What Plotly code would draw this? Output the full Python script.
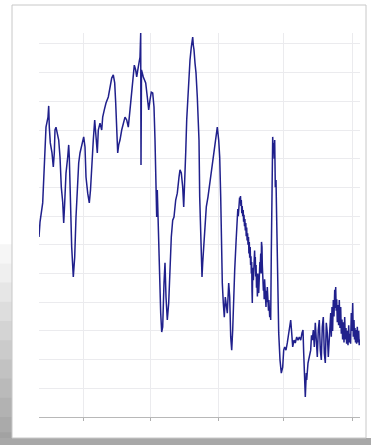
import plotly.graph_objects as go

# Sample position (sample index) and measured level for the trace
sample = [0, 1, 3.7, 5.3, 7, 9, 9.7, 10.3, 11.3, 13, 14.3, 15.3, 16, 17, 18, 19.7, 21, 22.3, 23.7, 24.7,
          25.7, 27, 28.7, 29.7, 30.3, 31.3, 32.7, 34.3, 35.7, 37, 38.3, 39.7, 41, 42.3, 43.7, 44.7, 46, 47,
          48.7, 50.3, 51.5, 52.7, 54.3, 55.7, 57, 58.3, 59.3, 61, 62.7, 63.7, 65.3, 67, 69.3, 71, 72.7,
          74.3, 75.7, 76.7, 77.7, 78.7, 79.7, 81, 82.7, 84.3, 86, 87.7, 89.3, 91, 92.7, 94.3, 95.3, 96.7,
          97.7, 99.3, 101, 101.7, 102, 102.5, 104.3, 106, 106.7, 108.3, 109.7, 111, 112.3, 113.7, 115,
          116, 117, 117.7, 118.3, 119.3, 120.3, 121.7, 122.7, 123.7, 125, 126, 127, 128.3, 129.7, 131,
          132.3, 133.7, 135, 136.7, 138.3, 140, 141, 142.3, 143.7, 144.7, 145.7, 146.7, 147.7, 148.7,
          150, 151, 152.3, 153.7, 154.3, 155, 156, 157, 158.3, 160, 160.7, 161.7, 162.3, 163, 163.7,
          164.7, 165.7, 167.3, 169, 170.7, 172.3, 174, 175.7, 177.3, 178.3, 179.7, 180.7, 181.7, 182.3,
          183.3, 184.3, 185.3, 186.3, 187.3, 188.3, 189.7, 190.7, 191.7, 192.7, 193.7, 194.7, 195.7,
          197, 198.3, 198.8, 199.3, 199.7, 200.2, 200.6, 201, 201.5, 201.9, 202.3, 202.8, 203.2, 203.7,
          204.2, 204.6, 205, 205.5, 205.9, 206.3, 206.8, 207.2, 207.7, 208.1, 208.6, 209, 209.5, 209.9,
          210.3, 210.7, 211.2, 211.6, 212, 212.3, 212.7, 213, 213.3, 213.6, 214, 214.4, 214.8, 215.2,
          215.6, 216, 216.3, 216.7, 217.1, 217.5, 218, 218.4, 218.8, 219.2, 219.7, 220.1, 220.5, 220.9,
          221.3, 221.7, 222.1, 222.5, 223, 223.3, 223.7, 224, 224.4, 224.8, 225.2, 225.6, 226, 226.3,
          226.7, 227, 227.4, 227.8, 228.3, 228.7, 229.1, 229.5, 229.9, 230.3, 230.7, 231.2, 231.7,
          232.3, 233, 233.7, 234.2, 234.7, 235.2, 235.7, 236.3, 237, 237.7, 238.3, 239, 239.7, 241,
          242.3, 243.7, 244.7, 245.7, 247, 248.3, 249.7, 250.7, 251.7, 252.7, 253.7, 255, 256.3, 257.7,
          259, 260.3, 261.7, 263, 264, 264.7, 265.7, 266.3, 267.3, 267.7, 269, 270.3, 271.7, 272.5,
          273.3, 274.3, 275.3, 276.3, 277.3, 278.3, 279.3, 280.3, 281.3, 282.3, 283.3, 284.3, 285.3,
          286.3, 287.3, 288.3, 289.3, 290.3, 291.7, 292.3, 293, 293.6, 294.3, 295, 295.7, 296.2, 296.7,
          297.2, 297.7, 298.3, 299, 299.6, 300.3, 301, 301.7, 302.3, 303, 303.6, 304.3, 305, 305.7,
          306.3, 307, 307.6, 308.3, 309, 309.7, 310.3, 311, 311.6, 312.3, 313, 313.7, 314.3, 315, 315.5,
          316, 316.5, 317, 317.6, 318.3, 319, 319.7, 320.2, 320.7]

level = [62.7, 67.9, 74.6, 86.1, 101.0, 104.5, 108.4, 101.0, 95.5, 92.0, 87.1, 92.0, 100.0, 101.0, 99.0,
         96.5, 90.6, 80.1, 74.9, 67.6, 74.6, 85.0, 90.6, 94.8, 90.6, 72.1, 59.2, 48.8, 55.7, 69.7, 81.5,
         88.5, 92.0, 93.7, 95.5, 97.6, 94.1, 83.6, 78.0, 74.6, 79.1, 85.0, 96.5, 103.5, 96.5, 92.0,
         100.0, 102.4, 100.0, 104.5, 107.0, 109.4, 111.5, 114.6, 118.1, 119.2, 116.4, 109.4, 100.0,
         92.0, 94.8, 96.5, 100.0, 102.4, 104.5, 103.5, 101.0, 107.0, 113.9, 118.5, 122.6, 120.9, 118.5,
         122.0, 125.4, 133.8, 87.8, 120.9, 118.5, 117.4, 116.4, 111.5, 107.0, 110.5, 113.2, 112.9,
         108.0, 96.5, 80.1, 69.7, 79.1, 65.2, 50.2, 36.2, 29.6, 31.4, 46.7, 53.7, 41.8, 33.8, 39.7,
         53.7, 62.7, 68.6, 69.7, 75.6, 78.0, 83.6, 86.1, 85.0, 80.1, 73.2, 80.1, 92.0, 103.5, 111.5,
         117.4, 124.4, 128.9, 132.4, 129.6, 127.9, 123.3, 119.9, 111.5, 96.5, 76.7, 62.7, 53.7, 48.8,
         53.7, 59.2, 66.2, 73.2, 76.7, 81.5, 86.1, 89.5, 95.5, 99.0, 101.0, 96.5, 90.6, 76.7, 62.7,
         46.7, 39.7, 34.8, 41.8, 39.7, 36.2, 46.7, 41.8, 27.9, 23.3, 30.3, 44.3, 51.2, 60.6,
         68.6, 72.5, 70.0, 74.0, 73.0, 76.5, 74.6, 77.0, 73.5, 75.6, 71.0, 73.5, 70.0,
         72.1, 68.0, 70.5, 66.5, 69.0, 65.0, 67.6, 63.0, 66.0, 61.5, 64.0, 60.0, 62.7, 57.0,
         61.0, 55.5, 59.2, 53.0, 56.0, 50.0, 54.0, 44.0, 39.7, 48.0, 52.0, 47.7, 56.0, 51.0,
         58.0, 53.0, 55.7, 49.0, 53.0, 45.0, 47.7, 42.0, 50.0, 44.0, 43.2, 49.0, 46.0, 54.0,
         52.3, 57.0, 50.0, 61.0, 59.2, 53.0, 48.0, 50.2, 44.0, 47.0, 41.0, 48.0, 44.0, 47.7,
         42.0, 38.3, 44.0, 40.0, 45.3, 39.0, 43.0, 37.0, 40.8, 36.0, 34.8, 38.0, 33.8,
         57.1, 82.6, 97.6, 92.0, 95.5, 90.0, 96.5, 80.1, 82.6, 68.6, 51.2, 33.8, 29.3, 19.9,
         15.3, 17.4, 23.3, 24.4, 23.3, 25.8, 29.3, 32.8, 33.8, 29.3, 24.4, 26.8, 25.8, 27.9,
         26.8, 27.9, 26.8, 29.3, 30.3, 22.3, 10.5, 7.0, 15.3, 12.9, 18.8, 20.9, 23.3, 28.5,
         26.8, 30.3, 24.4, 32.8, 27.9, 20.9, 30.3, 33.8, 23.3, 19.9, 31.4, 34.8, 22.3,
         18.8, 32.8, 29.3, 20.9, 27.9, 36.2, 28.0, 38.3, 30.0, 40.8, 35.0, 44.3, 38.0, 45.3,
         37.0, 41.0, 33.0, 39.0, 32.0, 40.8, 31.0, 38.3, 29.0, 34.0, 27.0, 33.0, 26.0, 34.8,
         27.0, 31.0, 25.5, 30.0, 25.0, 32.0, 26.0, 29.0, 25.5, 36.2, 30.0, 39.7, 28.0, 33.8, 27.0,
         31.0, 26.0, 30.3, 25.5, 31.4, 26.0, 30.0, 25.0, 27.0]

x_ticks = [44, 111, 179, 244, 313]

fig = go.Figure()
fig.add_trace(go.Scatter(
    x=sample, y=level, mode="lines",
    line=dict(color="#20208c", width=1.5),
    hoverinfo="skip", showlegend=False,
))

# Card-style frame with a soft drop shadow at the lower left
frame_shapes = []
shadow_steps = [
    (0.45, "#f6f6f6"), (0.40, "#efefef"), (0.35, "#e6e6e6"), (0.30, "#dddddd"),
    (0.25, "#d4d4d4"), (0.20, "#cbcbcb"), (0.15, "#c2c2c2"), (0.10, "#bababa"),
    (0.05, "#b2b2b2"), (0.00, "#aaaaaa"), (-0.04, "#a2a2a2"),
]
for top, col in shadow_steps:
    frame_shapes.append(dict(type="rect", xref="paper", yref="paper", layer="below",
                             x0=-0.1215, x1=-0.0841, y0=-0.075, y1=top,
                             line=dict(width=0), fillcolor=col))
frame_shapes.append(dict(type="rect", xref="paper", yref="paper", layer="below",
                         x0=-0.1215, x1=1.036, y0=-0.075, y1=-0.0547,
                         line=dict(width=0), fillcolor="#a8a8a8"))
frame_shapes.append(dict(type="rect", xref="paper", yref="paper", layer="below",
                         x0=-0.0841, x1=1.0187, y0=-0.0547, y1=1.0729,
                         line=dict(color="#c8c8c8", width=1), fillcolor="#ffffff"))

fig.update_layout(
    width=371, height=445,
    margin=dict(l=39, r=11, t=33, b=28),
    paper_bgcolor="#ffffff",
    plot_bgcolor="#f7f7f9",
    shapes=frame_shapes,
    xaxis=dict(
        range=[0, 321], tickvals=x_ticks, showticklabels=False,
        ticks="outside", ticklen=3, tickcolor="#b0b0b0",
        showgrid=True, gridcolor="#ebebee", gridwidth=1,
        showline=True, linecolor="#b8b8b8", linewidth=1,
        zeroline=False, fixedrange=True,
    ),
    yaxis=dict(
        range=[0, 133.8], dtick=10, showticklabels=False,
        showgrid=True, gridcolor="#ebebee", gridwidth=1,
        showline=False, zeroline=False, fixedrange=True,
    ),
)

fig.write_html("out.html")
